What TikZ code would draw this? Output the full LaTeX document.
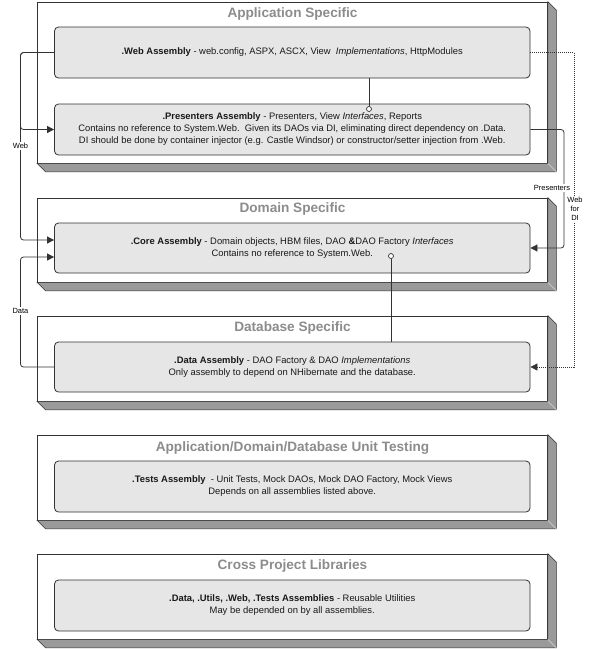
\documentclass[tikz,border=0pt]{standalone}
\usepackage{fontspec}
\setmainfont{Liberation Sans}
\usetikzlibrary{arrows.meta}
\definecolor{titlegray}{HTML}{8C8C8C}
\definecolor{boxfill}{HTML}{E6E6E6}
\definecolor{edgec}{HTML}{333333}
\definecolor{shadowc}{HTML}{9A9A9A}
\newcommand{\boxshade}[1]{%
  \draw[shadowpart] (#1.north east) -- ([shift={(8.5,8.5)}]#1.north east)
    -- ([shift={(8.5,8.5)}]#1.south east) -- ([shift={(8.5,8.5)}]#1.south west)
    -- (#1.south west) -- (#1.south east) -- cycle;
  \draw[white!70!gray,line width=0.5pt] (#1.south east) -- ([shift={(8.5,8.5)}]#1.south east);}
\begin{document}
\begin{tikzpicture}[x=1pt,y=-1pt,
  outerbox/.style={draw=edgec,fill=white,line width=0.8pt,minimum width=510pt,inner sep=0pt},
  shadowpart/.style={fill=shadowc,draw=edgec,line width=0.6pt,line join=miter},
  titletext/.style={text=titlegray,font=\fontsize{13.6}{15}\selectfont\bfseries,inner sep=0pt},
  innerbox/.style={draw=edgec,fill=boxfill,rounded corners=4pt,line width=0.8pt,
    minimum width=475.5pt,align=center,font=\fontsize{9.4}{12}\selectfont,inner sep=0pt,text=black!90},
  conn/.style={draw=edgec,line width=0.8pt,rounded corners=3pt},
  arr/.style={-{Triangle[length=7pt,width=7pt]}},
  dotconn/.style={draw=edgec,line width=0.8pt,dash pattern=on 1pt off 1pt},
  clabel/.style={fill=white,font=\fontsize{7.5}{9}\selectfont,inner sep=1pt,align=center},
  lolly/.style={draw=edgec,fill=white,line width=0.7pt,circle,inner sep=0pt,minimum size=5pt}
]
\useasboundingbox (0,0) rectangle (600,649);

% outer layer boxes
\node[outerbox,minimum height=161pt] (app) at (292.5,82.5) {};
\boxshade{app}
\node[outerbox,minimum height=84pt] (dom) at (292.5,240) {};
\boxshade{dom}
\node[outerbox,minimum height=85pt] (dbs) at (292.5,358.5) {};
\boxshade{dbs}
\node[outerbox,minimum height=85pt] (tst) at (292.5,477.5) {};
\boxshade{tst}
\node[outerbox,minimum height=85pt] (xpl) at (292.5,596.5) {};
\boxshade{xpl}

% titles
\node[titletext] (appT) at (292.5,14) {Application Specific};
\node[titletext] (domT) at (292.5,209) {Domain Specific};
\node[titletext] (dbsT) at (292.5,328) {Database Specific};
\node[titletext] (tstT) at (292.5,448) {Application/Domain/Database Unit Testing};
\node[titletext] (xplT) at (292.5,566) {Cross Project Libraries};

% inner assembly boxes
\node[innerbox,minimum height=51pt] (web) at (292.25,52.5)
  {\textbf{.Web Assembly} - web.config, ASPX, ASCX, View\ \ \textit{Implementations}, HttpModules};
\node[innerbox,minimum height=51pt] (pres) at (292.25,129.5)
  {\textbf{.Presenters Assembly} - Presenters, View \textit{Interfaces}, Reports\\
   Contains no reference to System.Web.\ \ Given its DAOs via DI, eliminating direct dependency on .Data.\\
   DI should be done by container injector (e.g. Castle Windsor) or constructor/setter injection from .Web.};
\node[innerbox,minimum height=50pt] (core) at (292.25,248)
  {\textbf{.Core Assembly} - Domain objects, HBM files, DAO \textbf{\&}DAO Factory \textit{Interfaces}\\
   Contains no reference to System.Web.};
\node[innerbox,minimum height=50pt] (data) at (292.25,367)
  {\textbf{.Data Assembly} - DAO Factory \& DAO \textit{Implementations}\\
   Only assembly to depend on NHibernate and the database.};
\node[innerbox,minimum height=51pt] (tests) at (292.25,486.5)
  {\textbf{.Tests Assembly}\ \ - Unit Tests, Mock DAOs, Mock DAO Factory, Mock Views\\
   Depends on all assemblies listed above.};
\node[innerbox,minimum height=51pt] (libs) at (292.25,605.5)
  {\textbf{.Data, .Utils, .Web, .Tests Assemblies} - Reusable Utilities\\
   May be depended on by all assemblies.};

% routing points
\coordinate (wl) at (20.5,52.5);
\coordinate (dl) at (20.5,367);
\coordinate (pr) at (564,129.5);
\coordinate (wr) at (574,52.5);

% connectors
\draw[conn,arr] (web.west) -- (wl) |- (pres.west);
\draw[conn,arr] (web.west) -- (wl) |- ([yshift=8pt]core.west);
\draw[conn,arr] (data.west) -- (dl) |- ([yshift=-9pt]core.west);
\draw[conn,arr] (pres.east) -- (pr) |- (core.east);
\draw[dotconn,arr] (web.east) -- (wr) |- (data.east);

% lollipops
\node[lolly] (c1) at (369,109) {};
\draw[conn] (web.south -| c1) -- (c1.north);
\node[lolly] (c2) at (391,256) {};
\draw[conn] (c2.south) -- (data.north -| c2);

% connector labels
\node[clabel] (lweb) at (20.5,146) {Web};
\node[clabel] (ldata) at (20.5,311) {Data};
\node[clabel] (lpres) at (552,188) {Presenters};
\node[clabel] (lwdi) at (575,209) {Web\\for\\DI};
\end{tikzpicture}
\end{document}
